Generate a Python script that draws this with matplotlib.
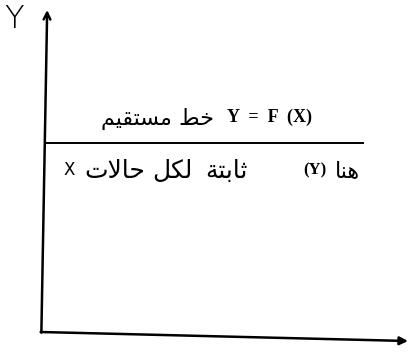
import matplotlib
matplotlib.use("Agg")
import matplotlib.pyplot as plt

# axes extents (arbitrary units) and the constant function y = c
x_max = 10
y_max = 10
y_const = 5.87
line_x = [0, 8.76]

# labels
axis_label_y = "Y"
line_words = ["خط", "مستقيم"]            # "straight line"
line_formula = "Y  =  F  (X)"
note_here = "هنا"
note_mid = "(Y)"
note_words = ["ثابتة", "لكل", "حالات"]    # "constant for all cases of"
note_x = "X"

# arabic presentation forms: isolated, final, initial, medial
FORMS = {
    'ا': (0xFE8D, 0xFE8E, None, None),
    'ب': (0xFE8F, 0xFE90, 0xFE91, 0xFE92),
    'ة': (0xFE93, 0xFE94, None, None),
    'ت': (0xFE95, 0xFE96, 0xFE97, 0xFE98),
    'ث': (0xFE99, 0xFE9A, 0xFE9B, 0xFE9C),
    'ح': (0xFEA1, 0xFEA2, 0xFEA3, 0xFEA4),
    'خ': (0xFEA5, 0xFEA6, 0xFEA7, 0xFEA8),
    'س': (0xFEB1, 0xFEB2, 0xFEB3, 0xFEB4),
    'ط': (0xFEC1, 0xFEC2, 0xFEC3, 0xFEC4),
    'ق': (0xFED5, 0xFED6, 0xFED7, 0xFED8),
    'ك': (0xFED9, 0xFEDA, 0xFEDB, 0xFEDC),
    'ل': (0xFEDD, 0xFEDE, 0xFEDF, 0xFEE0),
    'م': (0xFEE1, 0xFEE2, 0xFEE3, 0xFEE4),
    'ن': (0xFEE5, 0xFEE6, 0xFEE7, 0xFEE8),
    'ه': (0xFEE9, 0xFEEA, 0xFEEB, 0xFEEC),
    'ي': (0xFEF1, 0xFEF2, 0xFEF3, 0xFEF4),
    'لا': (0xFEFB, 0xFEFC, None, None),
}


def shape(word):
    """join arabic letters, return them in visual (left to right) order"""
    units = []
    i = 0
    while i < len(word):
        if word[i] == 'ل' and i + 1 < len(word) and word[i + 1] == 'ا':
            units.append('لا')
            i += 2
        else:
            units.append(word[i])
            i += 1
    out = []
    for k, u in enumerate(units):
        prev_j = k > 0 and FORMS[units[k - 1]][2] is not None
        next_j = k < len(units) - 1 and FORMS[u][2] is not None
        if prev_j and next_j:
            idx = 3
        elif prev_j:
            idx = 1
        elif next_j:
            idx = 2
        else:
            idx = 0
        out.append(chr(FORMS[u][idx]))
    return ''.join(reversed(out))


def rtl(words):
    return ' '.join(shape(w) for w in reversed(words))


fig = plt.figure(figsize=(4.09, 3.52), dpi=100)
ax = fig.add_axes([45 / 409, 20 / 352, 363 / 409, 322 / 352])
ax.set_xlim(0, x_max)
ax.set_ylim(0, y_max)
ax.axis("off")

# hand drawn axes, slightly tilted like the scan
ax.annotate("", xy=(0.06, y_max), xytext=(-0.1, -0.02),
            arrowprops=dict(arrowstyle="->", lw=1.8, color="black",
                            mutation_scale=12, shrinkA=0, shrinkB=0),
            annotation_clip=False)
ax.annotate("", xy=(x_max, -0.28), xytext=(-0.12, 0.0),
            arrowprops=dict(arrowstyle="-|>", lw=1.8, color="black",
                            mutation_scale=12, shrinkA=0, shrinkB=0),
            annotation_clip=False)

# the constant line
ax.plot(line_x, [y_const, y_const], color="black", lw=1.4, clip_on=False)

ax.text(-0.85, 9.72, axis_label_y, fontsize=23, fontweight="light",
        family="DejaVu Sans", ha="center", va="center")

# text above the line
ax.text(4.65, 6.62, rtl(line_words), fontsize=16, family="DejaVu Sans",
        ha="right", va="center")
ax.text(5.0, 6.68, line_formula, fontsize=13, family="Liberation Serif",
        ha="left", va="center", fontweight="bold")

# text below the line (right to left: here (Y) constant for all cases of X)
ax.text(8.68, 5.0, shape(note_here), fontsize=16, family="DejaVu Sans",
        ha="right", va="center")
ax.text(7.75, 5.03, note_mid, fontsize=12, family="Liberation Serif",
        ha="right", va="center", fontweight="bold")
word_x = [4.99, 3.5, 1.93]   # centres of the three words, read right to left
for w, xc in zip(note_words, word_x):
    ax.text(xc, 5.0, shape(w), fontsize=18, family="DejaVu Sans",
            ha="center", va="center")
ax.text(0.5, 5.03, note_x, fontsize=12, family="DejaVu Sans",
        ha="left", va="center")

fig.savefig("out.png", dpi=100)
